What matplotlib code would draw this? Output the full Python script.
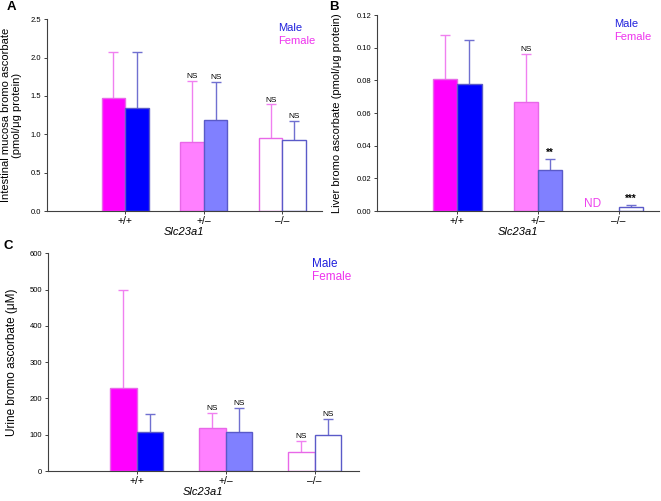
import numpy as np
import matplotlib
matplotlib.use('Agg')
import matplotlib.pyplot as plt

plt.rcParams['font.family'] = ['Liberation Sans', 'DejaVu Sans']

# genotype groups
groups = ['+/+', '+/\u2013', '\u2013/\u2013']

# panel A - intestinal mucosa
a_female = [1.47, 0.90, 0.95]
a_female_sd = [0.60, 0.80, 0.44]
a_male = [1.34, 1.19, 0.92]
a_male_sd = [0.74, 0.49, 0.26]
a_female_sig = ['', 'NS', 'NS']
a_male_sig = ['', 'NS', 'NS']

# panel B - liver (female -/- not detected)
b_female = [0.081, 0.0667, np.nan]
b_female_sd = [0.027, 0.0297, np.nan]
b_male = [0.078, 0.025, 0.0027]
b_male_sd = [0.0265, 0.007, 0.0010]
b_female_sig = ['', 'NS', '']
b_male_sig = ['', '**', '***']

# panel C - urine
c_female = [230, 118, 51]
c_female_sd = [270, 41, 31]
c_male = [107, 107, 99]
c_male_sd = [50, 68, 45]
c_female_sig = ['', 'NS', 'NS']
c_male_sig = ['', 'NS', 'NS']

female_fill = ['#ff00ff', '#ff80ff', 'white']
male_fill = ['#0000ff', '#8080ff', 'white']
female_edge = '#e868e8'
male_edge = '#5a5ac8'
female_err = '#f080f0'
male_err = '#7070d0'

W, H = 661, 501
fig = plt.figure(figsize=(W / 100, H / 100), dpi=100)


def px_axes(left, top, right, bottom):
    return fig.add_axes([left / W, 1 - bottom / H, (right - left) / W, (bottom - top) / H])


def draw_panel(ax, female, female_sd, male, male_sd, fsig, msig, ymax, yticks, fmt):
    x = np.arange(1, len(groups) + 1)
    w = 0.3
    for vals, sds, sig, fills, edge, ecol, off in [
            (female, female_sd, fsig, female_fill, female_edge, female_err, -w / 2),
            (male, male_sd, msig, male_fill, male_edge, male_err, w / 2)]:
        for i in range(len(groups)):
            v = vals[i]
            if np.isnan(v):
                continue
            ax.bar(x[i] + off, v, w, color=fills[i], edgecolor=edge, linewidth=1.0, zorder=2)
            eb = ax.errorbar(x[i] + off, v, yerr=[[0], [sds[i]]], fmt='none', ecolor=ecol,
                             elinewidth=1.0, capsize=3.5, capthick=1.0, zorder=1)
            eb[1][0].set_visible(False)
            if sig[i]:
                bold = '*' in sig[i]
                ax.text(x[i] + off, v + sds[i] + ymax * 0.004, sig[i], ha='center', va='bottom',
                        fontsize=7 if bold else 6, fontweight='bold' if bold else 'normal',
                        color='black')
    ax.set_xlim(0, 3.5)
    ax.set_ylim(0, ymax)
    ax.set_yticks(yticks)
    ax.set_yticklabels([fmt.format(t) for t in yticks], fontsize=5.5)
    ax.set_xticks(x)
    ax.set_xticklabels(groups, fontsize=7.5)
    ax.tick_params(axis='y', length=2.5, width=0.7, color='#404040', pad=1.5)
    ax.tick_params(axis='x', length=2, width=0.7, color='#404040', pad=1.5)
    for s in ['top', 'right']:
        ax.spines[s].set_visible(False)
    for s in ['left', 'bottom']:
        ax.spines[s].set_color('#404040')
        ax.spines[s].set_linewidth(0.8)
    ax.set_xlabel('Slc23a1', fontsize=8, style='italic', labelpad=0.5)


axA = px_axes(46.7, 19.3, 321.7, 211)
draw_panel(axA, a_female, a_female_sd, a_male, a_male_sd, a_female_sig, a_male_sig,
           2.5, np.arange(0, 2.51, 0.5), '{:.1f}')
axB = px_axes(376.7, 15, 659, 211)
draw_panel(axB, b_female, b_female_sd, b_male, b_male_sd, b_female_sig, b_male_sig,
           0.12, np.arange(0, 0.121, 0.02), '{:.2f}')
axC = px_axes(47.7, 253.3, 359, 471)
draw_panel(axC, c_female, c_female_sd, c_male, c_male_sd, c_female_sig, c_male_sig,
           600, np.arange(0, 601, 100), '{:.0f}')

# not detected label
axB.text(2.68, 0.0043, 'ND', ha='center', va='center', fontsize=8.5, color='#ee44ee')

# y labels
fig.text(11.5 / W, 1 - 115 / H, 'Intestinal mucosa bromo ascorbate\n(pmol/\u03bcg protein)',
         rotation=90, ha='center', va='center', fontsize=8, linespacing=1.1)
fig.text(336.7 / W, 1 - 113 / H, 'Liver bromo ascorbate (pmol/\u03bcg protein)',
         rotation=90, ha='center', va='center', fontsize=8)
fig.text(12.5 / W, 1 - 362 / H, 'Urine bromo ascorbate (\u03bcM)',
         rotation=90, ha='center', va='center', fontsize=8.5)

# legends
for x0, y0, fs in [(277.7, 28.3, 8), (614.3, 24, 8), (311.7, 264, 8.5)]:
    fig.text(x0 / W, 1 - y0 / H, 'Male', color='#2020dd', fontsize=fs, ha='left', va='center')
    fig.text(x0 / W, 1 - (y0 + 12.8) / H, 'Female', color='#ee33ee', fontsize=fs,
             ha='left', va='center')

# panel letters
for lx, ly, lab in [(11, 7.5, 'A'), (334, 6.5, 'B'), (8, 246, 'C')]:
    fig.text(lx / W, 1 - ly / H, lab, fontsize=9.5, fontweight='bold', ha='center', va='center')

fig.savefig('out.png', dpi=100)
